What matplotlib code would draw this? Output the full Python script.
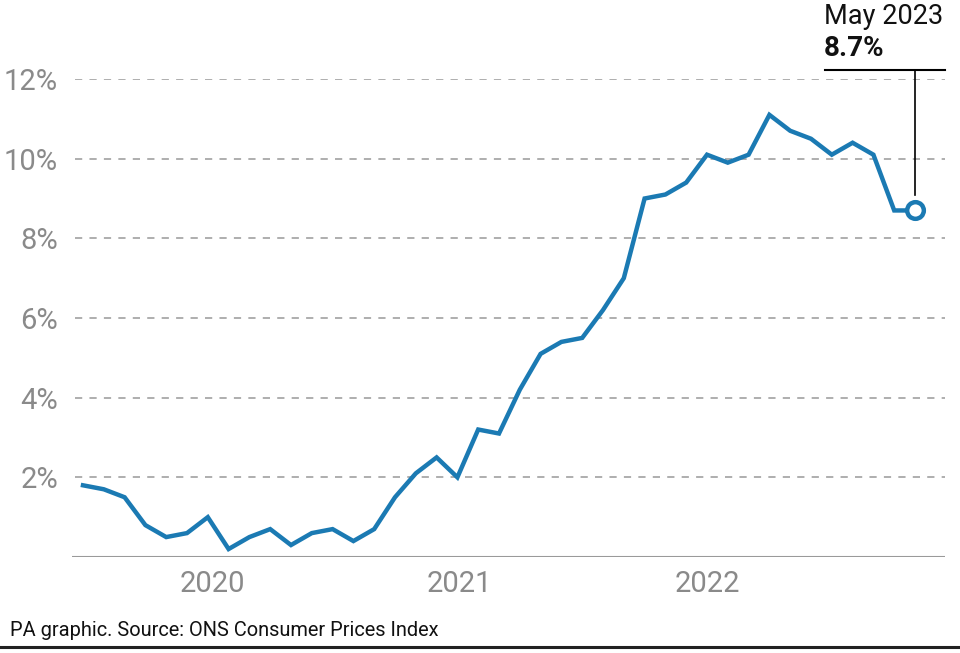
import matplotlib
matplotlib.use("Agg")
import matplotlib.pyplot as plt
from matplotlib.lines import Line2D

plt.rcParams['font.family'] = ['Roboto', 'DejaVu Sans']

# Monthly UK CPI annual rate, Jan 2020 - May 2023
months = list(range(41))
cpi = [1.8, 1.7, 1.5, 0.8, 0.5, 0.6, 1.0, 0.2, 0.5, 0.7, 0.3, 0.6,
       0.7, 0.4, 0.7, 1.5, 2.1, 2.5, 2.0, 3.2, 3.1, 4.2, 5.1, 5.4,
       5.5, 6.2, 7.0, 9.0, 9.1, 9.4, 10.1, 9.9, 10.1, 11.1, 10.7, 10.5,
       10.1, 10.4, 10.1, 8.7, 8.7]
year_pos = [6.2, 18.1, 30.0]
year_labels = ['2020', '2021', '2022']
y_ticks = [2, 4, 6, 8, 10, 12]
y_labels = ['2%', '4%', '6%', '8%', '10%', '12%']
last_label = 'May 2023'
last_value = '8.7%'

W, H = 960, 653
fig = plt.figure(figsize=(W / 100, H / 100), dpi=100)
fig.patch.set_facecolor('white')

def fx(px):
    return px / W

def fy(py):
    return 1 - py / H

ax = fig.add_axes([fx(72), fy(557), fx(945) - fx(72), fy(79) - fy(557)])
ppm = 20.8  # px per month
x0 = -(83 - 72) / ppm
x1 = 40 + (945 - 915) / ppm
ax.set_xlim(x0, x1)
ax.set_ylim(0, 12)

blue = '#1b7ab3'
grey = '#8a8a8a'

for yt in y_ticks:
    ax.axhline(yt, color='#a8a8a8', lw=1.3, dashes=(4, 4), xmin=0.004, zorder=1)
ax.axhline(0, color='#9a9a9a', lw=1.5, zorder=1)

ax.plot(months, cpi, color=blue, lw=3.2, solid_joinstyle='miter', zorder=3)
ax.plot([months[-1]], [cpi[-1]], marker='o', ms=12, mfc='white', mec=blue, mew=3.2, zorder=4)

for s in ax.spines.values():
    s.set_visible(False)
ax.set_yticks(y_ticks)
ax.set_yticklabels(y_labels, fontsize=21, color=grey)
ax.set_xticks(year_pos)
ax.set_xticklabels(year_labels, fontsize=21, color=grey)
ax.tick_params(axis='both', length=0)
ax.tick_params(axis='y', pad=10)
ax.tick_params(axis='x', pad=9)

# annotation
ppy = (557 - 79) / 12
y_top = 12 + (79 - 70) / ppy
y_bot = (557 - 195) / ppy
ax.add_line(Line2D([40, 40], [y_bot, y_top], color='black', lw=1.2, clip_on=False))
ax.add_line(Line2D([(825 - 83) / ppm, x1], [y_top, y_top], color='black', lw=1.5, clip_on=False))
fig.text(fx(824), fy(16), last_label, fontsize=19.5, color='#111111', va='center', ha='left')
fig.text(fx(824), fy(49), last_value, fontsize=20, color='#111111', fontweight='bold', va='center', ha='left')

# footer
fig.text(fx(10), fy(630), 'PA graphic. Source: ONS Consumer Prices Index', fontsize=14.4,
         color='#111111', va='center', ha='left')
fig.add_artist(Line2D([0, 1], [fy(647), fy(647)], color='#222222', lw=2.2, transform=fig.transFigure))

fig.savefig('out.png', dpi=100, facecolor='white')
